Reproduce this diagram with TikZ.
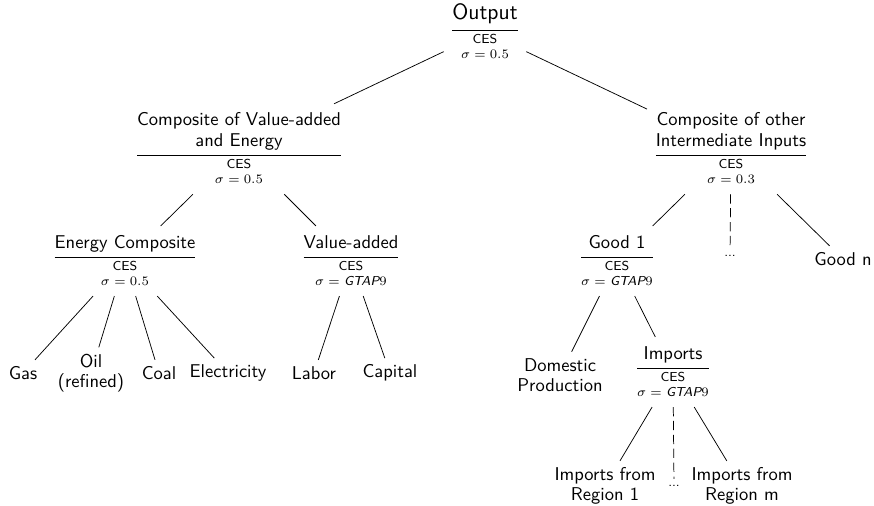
\documentclass[tikz,border=0pt]{standalone}
\usepackage{amsmath}
\usepackage{amssymb}
\renewcommand{\familydefault}{\sfdefault}
\newcommand{\cesfrac}[2]{$\genfrac{}{}{}{0}{\text{\begin{tabular}{@{}c@{}}#1\end{tabular}}}{\text{\scriptsize\begin{tabular}{@{}c@{}}CES\\$\sigma=#2$\end{tabular}}}$}
\newcommand{\gtap}{\text{\itshape GTAP}9}

\begin{document}
\begin{tikzpicture}[x=0.54pt, y=-0.54pt]
\useasboundingbox (0,0) rectangle (874,505);
\node[font=\large] (output) at (485,32) {\cesfrac{Output}{0.5}};
\node (vae) at (239,149) {\cesfrac{Composite of Value-added\\[-1pt]and Energy}{0.5}};
\node (other) at (731,149) {\cesfrac{Composite of other\\[-1pt]Intermediate Inputs}{0.3}};
\node (energy) at (125,261) {\cesfrac{Energy Composite}{0.5}};
\node (va) at (351,261) {\cesfrac{Value-added}{\gtap}};
\node (good1) at (617,261) {\cesfrac{Good 1}{\gtap}};
\node[font=\scriptsize] (dotsgood) at (730,256) {...};
\node (goodn) at (843,259) {Good n};
\foreach \n/\x/\t in {gas/23/Gas, coal/159/Coal, elec/228/Electricity, labor/314/Labor, capital/390/Capital}{
	\node (\n) at (\x,373) {\t};
}
\node[align=center] (oil) at (91,373) {Oil\\[-1pt](refined)};
\node[align=center] (domestic) at (560,375) {Domestic\\[-1pt]Production};
\node (imports) at (673,372) {\cesfrac{Imports}{\gtap}};
\node[align=center] (region1) at (605,486) {Imports from\\[-1pt]Region 1};
\node[font=\scriptsize] (dotsimp) at (674,486) {...};
\node[align=center] (regionm) at (742,486) {Imports from\\[-1pt]Region m};
\foreach \a/\b in {output/vae, output/other, vae/energy, vae/va, other/good1, other/goodn, energy/gas, energy/oil, energy/coal, energy/elec, va/labor, va/capital, good1/domestic, good1/imports, imports/region1, imports/regionm}{
	\draw[black] (\a)--(\b);
}
\draw[black, dash pattern=on 5pt off 2.5pt] (other)--(dotsgood);
\draw[black, dash pattern=on 5pt off 2.5pt] (imports)--(dotsimp);
\end{tikzpicture}
\end{document}
